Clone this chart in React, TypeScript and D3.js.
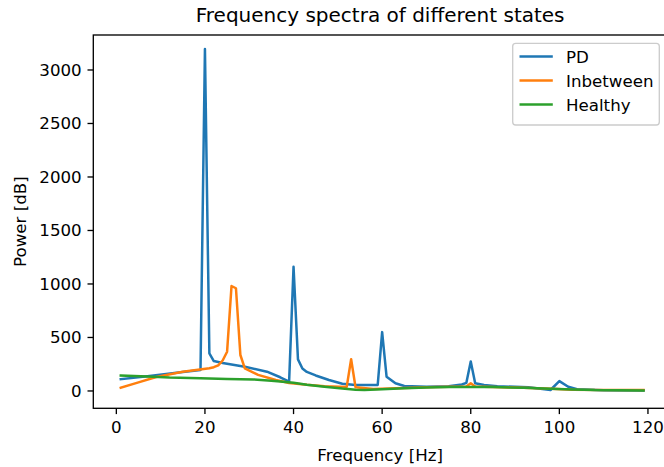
import React from "react";
import * as d3 from "d3";

const pdFreq = [1, 7, 15, 19, 20, 21, 22, 24, 29, 34, 37, 39, 40, 41, 42, 43, 45, 48, 51, 54, 59, 60, 61, 63, 65, 70, 75, 78, 79, 80, 81, 83, 86, 93, 98, 100, 102, 104, 110, 119];
const pdPower = [110, 138, 178, 196, 3195, 352, 280, 262, 227, 180, 128, 87, 1160, 295, 210, 178, 145, 102, 68, 56, 56, 550, 134, 72, 47, 40, 45, 60, 75, 275, 72, 55, 45, 34, 9, 92, 40, 16, 6, 5];

const inFreq = [1, 5, 9, 15, 18, 21, 22, 23, 24, 25, 26, 27, 28, 29, 32, 36, 39, 43, 47, 52, 53, 54, 58, 65, 72, 79, 80, 81, 90, 97, 103, 110, 119];
const inPower = [30, 80, 130, 180, 196, 212, 222, 240, 285, 367, 981, 960, 336, 212, 150, 103, 75, 58, 45, 38, 296, 34, 18, 28, 36, 42, 72, 42, 32, 22, 12, 8, 8];

const heFreq = [1, 7, 12, 19, 25, 31, 35, 37, 40, 43, 47, 51, 54, 56, 60, 65, 70, 75, 85, 92, 98, 103, 108, 119];
const hePower = [145, 135, 125, 118, 113, 108, 95, 88, 76, 58, 40, 22, 12, 10, 15, 25, 32, 38, 36, 30, 20, 14, 8, 5];

const seriesNames = ["PD", "Inbetween", "Healthy"];
const seriesColors = ["#1f77b4", "#ff7f0e", "#2ca02c"];
const xTicks = [0, 20, 40, 60, 80, 100, 120];
const yTicks = [0, 500, 1000, 1500, 2000, 2500, 3000];

const W = 664;
const H = 467;
const L = 93.3;
const R = 667;
const T = 35;
const B = 408.3;
const FONT = "DejaVu Sans, sans-serif";

export default function App() {
  const x = d3.scaleLinear().domain([-5.2, 124.3]).range([L, R]);
  const y = d3.scaleLinear().domain([-162, 3327]).range([B, T]);

  const series = [
    { f: pdFreq, p: pdPower },
    { f: inFreq, p: inPower },
    { f: heFreq, p: hePower },
  ];
  const line = d3
    .line<[number, number]>()
    .x((d) => x(d[0]))
    .y((d) => y(d[1]));

  const legX0 = 512.7;
  const legX1 = 659.3;
  const legY0 = 43.3;
  const legY1 = 125;
  const rowY = [56.5, 80.5, 104.5];

  return (
    <svg
      width={W}
      height={H}
      style={{ position: "absolute", left: 0, top: 0, background: "#fff" }}
      fontFamily={FONT}
    >
      <rect x={0} y={0} width={W} height={H} fill="#fff" />
      <defs>
        <clipPath id="plotclip">
          <rect x={L} y={T} width={R - L} height={B - T} />
        </clipPath>
      </defs>
      <g clipPath="url(#plotclip)">
        {series.map((s, i) => (
          <path
            key={i}
            d={line(s.f.map((f, j) => [f, s.p[j]] as [number, number])) || ""}
            fill="none"
            stroke={seriesColors[i]}
            strokeWidth={2.5}
            strokeLinejoin="round"
            strokeLinecap="square"
          />
        ))}
      </g>
      <rect x={L} y={T} width={R - L} height={B - T} fill="none" stroke="#000" strokeWidth={1.33} />
      {xTicks.map((t) => (
        <g key={"x" + t}>
          <line x1={x(t)} x2={x(t)} y1={B} y2={B + 5.8} stroke="#000" strokeWidth={1.33} />
          <text x={x(t)} y={432.5} fontSize={16.67} textAnchor="middle" fill="#000">
            {t}
          </text>
        </g>
      ))}
      {yTicks.map((t) => (
        <g key={"y" + t}>
          <line x1={L - 5.8} x2={L} y1={y(t)} y2={y(t)} stroke="#000" strokeWidth={1.33} />
          <text x={L - 11.6} y={y(t) + 6} fontSize={16.67} textAnchor="end" fill="#000">
            {t}
          </text>
        </g>
      ))}
      <text x={(L + R) / 2} y={461} fontSize={16.67} textAnchor="middle" fill="#000">
        Frequency [Hz]
      </text>
      <text
        transform={`translate(26,${(T + B) / 2}) rotate(-90)`}
        fontSize={16.67}
        textAnchor="middle"
        fill="#000"
      >
        Power [dB]
      </text>
      <text x={(L + R) / 2} y={21.5} fontSize={20} textAnchor="middle" fill="#000">
        Frequency spectra of different states
      </text>
      <rect
        x={legX0}
        y={legY0}
        width={legX1 - legX0}
        height={legY1 - legY0}
        rx={3}
        ry={3}
        fill="#fff"
        fillOpacity={0.8}
        stroke="#cccccc"
        strokeWidth={1.33}
      />
      {seriesNames.map((n, i) => (
        <g key={n}>
          <line x1={519.5} x2={552.8} y1={rowY[i]} y2={rowY[i]} stroke={seriesColors[i]} strokeWidth={2.5} />
          <text x={566} y={rowY[i] + 6} fontSize={16.67} fill="#000">
            {n}
          </text>
        </g>
      ))}
    </svg>
  );
}
